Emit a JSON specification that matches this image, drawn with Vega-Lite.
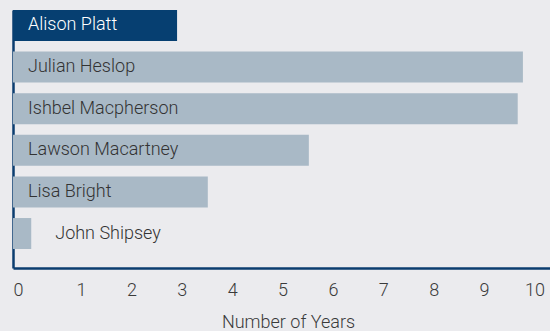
{
  "$schema": "https://vega.github.io/schema/vega-lite/v6.json",
  "width": 537,
  "height": 258,
  "autosize": {"type": "none"},
  "padding": {"left": 13, "top": 10, "right": 0, "bottom": 63},
  "background": "#ebebee",
  "config": {
    "view": {"stroke": null},
    "font": "Roboto",
    "axis": {"grid": false}
  },
  "data": {
    "values": [
      {"name": "Alison Platt", "years": 3.15, "role": "Chair"},
      {"name": "Julian Heslop", "years": 9.79, "role": "Director"},
      {"name": "Ishbel Macpherson", "years": 9.69, "role": "Director"},
      {"name": "Lawson Macartney", "years": 5.68, "role": "Director"},
      {"name": "Lisa Bright", "years": 3.74, "role": "Director"},
      {"name": "John Shipsey", "years": 0.35, "role": "Director"}
    ]
  },
  "encoding": {
    "y": {
      "field": "name",
      "type": "nominal",
      "sort": null,
      "scale": {"paddingInner": 0.255, "paddingOuter": 0.228, "align": 0},
      "axis": {
        "title": null,
        "labels": false,
        "ticks": false,
        "domainColor": "#0b3d6f",
        "domainWidth": 2.5
      }
    }
  },
  "layer": [
    {
      "mark": {"type": "bar"},
      "encoding": {
        "x": {
          "field": "years",
          "type": "quantitative",
          "scale": {"domain": [0, 10.31], "nice": false},
          "axis": {
            "title": "Number of Years",
            "values": [0, 1, 2, 3, 4, 5, 6, 7, 8, 9, 10],
            "ticks": false,
            "domainColor": "#0b3d6f",
            "domainWidth": 2.5,
            "labelFont": "Roboto",
            "labelFontWeight": 300,
            "labelFontSize": 18,
            "labelColor": "#3a3a3a",
            "labelPadding": 13,
            "labelFlush": false,
            "labelOffset": {"expr": "datum.value === 0 ? 5 : 17.6 - 1.7 * datum.value"},
            "titleFont": "Roboto",
            "titleFontSize": 18,
            "titleFontWeight": 300,
            "titleColor": "#3a3a3a",
            "titlePadding": 14,
            "titleX": 275
          }
        },
        "color": {
          "field": "role",
          "type": "nominal",
          "scale": {"domain": ["Chair", "Director"], "range": ["#063f71", "#a9b9c6"]},
          "legend": null
        }
      }
    },
    {
      "transform": [{"filter": "datum.years >= 1"}],
      "mark": {"type": "text", "align": "left", "baseline": "middle", "dx": 15, "fontSize": 18, "font": "Roboto", "fontWeight": 300},
      "encoding": {
        "x": {"datum": 0, "type": "quantitative"},
        "text": {"field": "name"},
        "color": {
          "field": "role",
          "type": "nominal",
          "scale": {"domain": ["Chair", "Director"], "range": ["#ffffff", "#333333"]},
          "legend": null
        }
      }
    },
    {
      "transform": [{"filter": "datum.years < 1"}],
      "mark": {"type": "text", "align": "left", "baseline": "middle", "dx": 24, "fontSize": 18, "font": "Roboto", "fontWeight": 300, "color": "#333333"},
      "encoding": {
        "x": {"field": "years", "type": "quantitative"},
        "text": {"field": "name"}
      }
    }
  ],
  "resolve": {"scale": {"color": "independent"}}
}
